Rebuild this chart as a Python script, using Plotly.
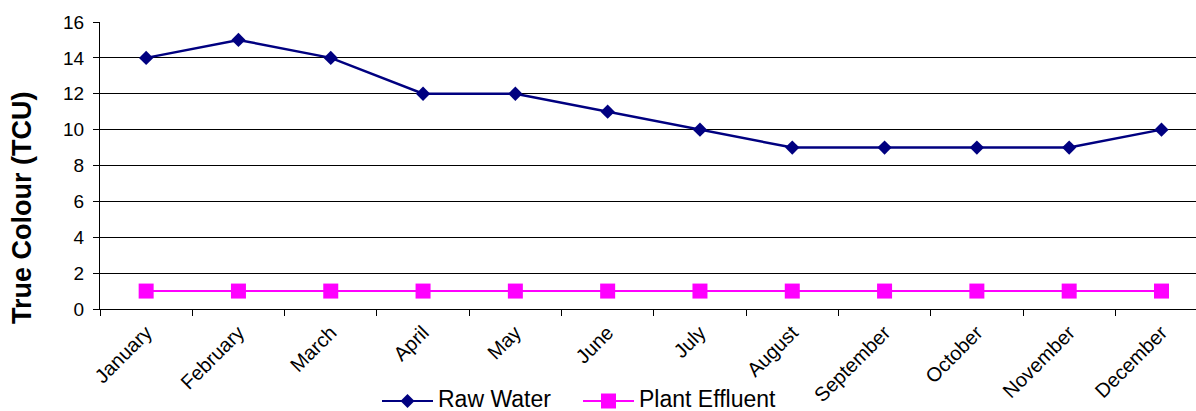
import plotly.graph_objects as go

months = ["January", "February", "March", "April", "May", "June", "July",
          "August", "September", "October", "November", "December"]
raw_water = [14, 15, 14, 12, 12, 11, 10, 9, 9, 9, 9, 10]
plant_effluent = [1, 1, 1, 1, 1, 1, 1, 1, 1, 1, 1, 1]

FONT = "Liberation Sans, Arial, sans-serif"
NAVY = "#000080"
MAGENTA = "#FF00FF"

# plot area geometry (pixels)
L, T, W, H = 100, 22, 1096, 287

fig = go.Figure()
fig.add_trace(go.Scatter(
    x=months, y=raw_water, name="Raw Water", mode="lines+markers",
    line=dict(color=NAVY, width=2.5),
    marker=dict(symbol="diamond", size=11, color=NAVY),
    showlegend=False,
))
fig.add_trace(go.Scatter(
    x=months, y=plant_effluent, name="Plant Effluent", mode="lines+markers",
    line=dict(color=MAGENTA, width=2),
    marker=dict(symbol="square", size=15, color=MAGENTA),
    showlegend=False,
))

# Legend drawn below the axis: short line + marker glyph, then the label.
def legend_item(x_px, color, glyph, label):
    yc = -92  # pixels below the x axis line
    fig.add_shape(type="line", xref="paper", yref="paper",
                  xsizemode="pixel", ysizemode="pixel", xanchor=0, yanchor=0,
                  x0=x_px - L, x1=x_px - L + 51, y0=yc, y1=yc,
                  line=dict(color=color, width=2))
    cx = x_px - L + 25.5
    if glyph == "diamond":
        r = 7
        path = f"M{cx - r},{yc} L{cx},{yc + r} L{cx + r},{yc} L{cx},{yc - r} Z"
    else:
        r = 7.5
        path = (f"M{cx - r},{yc - r} L{cx + r},{yc - r} L{cx + r},{yc + r} "
                f"L{cx - r},{yc + r} Z")
    fig.add_shape(type="path", xref="paper", yref="paper",
                  xsizemode="pixel", ysizemode="pixel", xanchor=0, yanchor=0,
                  path=path, fillcolor=color, line=dict(color=color, width=0))
    fig.add_annotation(text=label, xref="paper", yref="paper",
                       x=(x_px + 55 - L) / W, y=(yc + 2) / H,
                       xanchor="left", yanchor="middle", showarrow=False,
                       borderpad=0,
                       font=dict(size=23, family=FONT, color="black"))

legend_item(382, NAVY, "diamond", "Raw Water")
legend_item(583, MAGENTA, "square", "Plant Effluent")

# y axis title, centred on the chart height
fig.add_annotation(text="<b>True Colour (TCU)</b>", textangle=-90,
                   xref="paper", yref="paper", x=(22 - L) / W, y=(309 - 208) / H,
                   xanchor="center", yanchor="middle", showarrow=False,
                   font=dict(size=27, family=FONT, color="black"))

fig.update_layout(
    width=1196, height=411,
    margin=dict(l=L, r=0, t=T, b=411 - T - H),
    paper_bgcolor="white", plot_bgcolor="white",
    font=dict(family=FONT, size=19, color="black"),
    showlegend=False,
    xaxis=dict(
        type="category", range=[-0.5, 11.374], automargin=False,
        tickangle=-45, tickfont=dict(size=20), ticklabelstandoff=3,
        showline=True, linecolor="black", linewidth=1,
        ticks="outside", ticklen=6, tickcolor="black",
        tickson="boundaries", showgrid=False, zeroline=False,
    ),
    yaxis=dict(
        range=[0, 16], dtick=2, automargin=False,
        showline=True, linecolor="black", linewidth=1,
        ticks="outside", ticklen=6, tickcolor="black",
        showgrid=True, gridcolor="black", gridwidth=1,
        zeroline=False, tickfont=dict(size=19), ticklabelstandoff=5,
    ),
)

fig.write_html("out.html")
